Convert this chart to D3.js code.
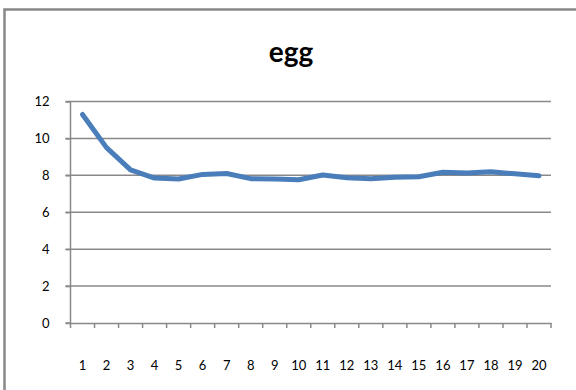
<!DOCTYPE html>
<html><head><meta charset="utf-8">
<script src="https://cdn.jsdelivr.net/npm/d3@7"></script>
<style>body{margin:0;background:#fff}svg{display:block}</style>
</head><body>
<script>
const title = "egg";
const categories = ["1","2","3","4","5","6","7","8","9","10","11","12","13","14","15","16","17","18","19","20"];
const values = [11.3,9.5,8.3,7.85,7.8,8.05,8.1,7.82,7.8,7.76,8.02,7.87,7.82,7.9,7.92,8.17,8.12,8.2,8.08,7.98];
const yTicks = [0,2,4,6,8,10,12];

const W=576,H=390;
const svg=d3.select("body").append("svg").attr("width",W).attr("height",H);
svg.append("rect").attr("width",W).attr("height",H).attr("fill","#fff");
// chart frame (left & top visible)
svg.append("path").attr("d","M4.5,390 V9.5 H576").attr("fill","none").attr("stroke","#888").attr("stroke-width",2.5);

const m={l:70.5,r:551,t:101.5,b:323};
const x=d3.scaleBand().domain(categories).range([m.l,m.r]);
const y=d3.scaleLinear().domain([0,12]).range([m.b,m.t]);
const font="Lato, 'Open Sans', sans-serif";

// gridlines
svg.append("g").selectAll("line").data(yTicks.filter(d=>d>0)).join("line")
  .attr("x1",m.l-5).attr("x2",m.r).attr("y1",d=>y(d)).attr("y2",d=>y(d))
  .attr("stroke","#898989").attr("stroke-width",1.5);

// y axis
const ya=svg.append("g").attr("transform",`translate(${m.l},0)`)
  .call(d3.axisLeft(y).tickValues(yTicks).tickSize(5).tickPadding(16).tickFormat(d3.format("d")));
ya.select(".domain").attr("stroke","#898989").attr("stroke-width",1.5).attr("d",`M-5,${m.b}H0V${m.t}`);
ya.selectAll(".tick line").attr("stroke","#898989").attr("stroke-width",1.5);
ya.selectAll("text").attr("font-family",font).attr("font-size",13).attr("fill","#000");

// x axis
const xa=svg.append("g").attr("transform",`translate(0,${m.b})`)
  .call(d3.axisBottom(x).tickSize(0).tickPadding(38));
xa.select(".domain").attr("stroke","#898989").attr("stroke-width",1.5);
xa.selectAll("text").attr("font-family",font).attr("font-size",13).attr("fill","#000");
const edges=categories.map(c=>x(c)).concat([m.r]);
xa.append("g").selectAll("line").data(edges).join("line")
  .attr("x1",d=>d).attr("x2",d=>d).attr("y1",0).attr("y2",5)
  .attr("stroke","#898989").attr("stroke-width",1.5);

// line
const line=d3.line().x((d,i)=>x(categories[i])+x.bandwidth()/2).y(d=>y(d));
svg.append("path").datum(values).attr("d",line).attr("fill","none")
  .attr("stroke","#4a7ebb").attr("stroke-width",5).attr("stroke-linejoin","round").attr("stroke-linecap","round");

svg.append("text").attr("x",291).attr("y",62).attr("text-anchor","middle")
  .attr("font-family",font).attr("font-weight","bold").attr("font-size",28).text(title);
</script>
</body></html>
